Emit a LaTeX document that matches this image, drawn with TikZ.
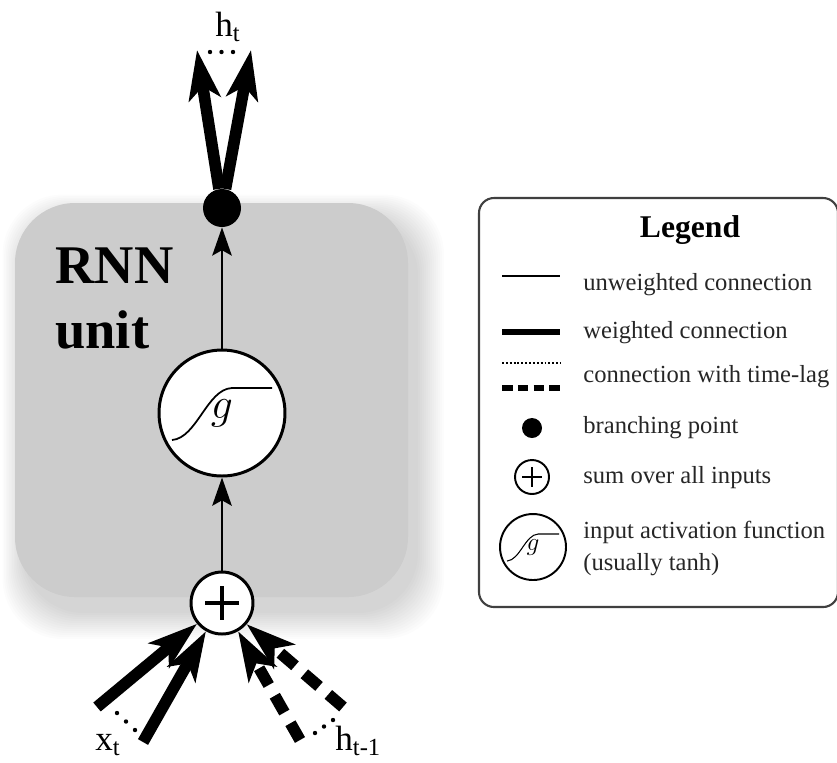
\documentclass[tikz,border=0pt]{standalone}
\usepackage{fontspec}
\setmainfont{Liberation Serif}
\usetikzlibrary{positioning,arrows.meta,calc}

\begin{document}
\begin{tikzpicture}[x=0.02cm,y=-0.02cm,
  every node/.style={font=\fontsize{14}{18}\selectfont},
  unit/.style={draw,circle,fill=white,line width=1.7pt,inner sep=0pt},
  weighted/.style={line width=6.6pt,-{Stealth[length=28pt,width=18pt,inset=7pt]}},
  lagged/.style={weighted,dash pattern=on 11pt off 7pt},
  plain/.style={line width=1.7pt,-{Stealth[length=16pt,width=11pt,inset=3pt]}},
  lbl/.style={anchor=base west,inner sep=0pt,font=\fontsize{20}{20}\selectfont},
  legtext/.style={anchor=base west,inner sep=0pt,text=black!85}]
\useasboundingbox (0,0) rectangle (837,762);
\clip (0,0) rectangle (837,762);
% shadow and gray box of the unit
\foreach \i in {1,...,14}
  \fill[black,opacity=0.013,rounded corners=1.2cm]
    ({15+10-1.6*\i},{203+14-1.6*\i}) rectangle ({408+8+2*\i},{597+14+2*\i});
\fill[black!20,rounded corners=1.2cm] (15,203) rectangle (408,597);
\node[lbl,font=\bfseries\fontsize{31}{31}\selectfont] (rnn) at (55,283) {RNN};
\node[lbl,font=\bfseries\fontsize{31}{31}\selectfont] (unitlbl) at (55,348) {unit};

% nodes
\node[unit,minimum size=1.24cm] (sum) at (222,603) {};
\draw[line width=2pt] ($(sum)+(-17,0)$) -- ($(sum)+(17,0)$);
\draw[line width=2pt] ($(sum)+(0,-17)$) -- ($(sum)+(0,17)$);
\node[unit,minimum size=2.52cm,font=\fontsize{32}{32}\selectfont] (act) at (222,413) {$g$};
\begin{scope}[shift={(act)}]
\draw[line width=1pt] (-50,27) .. controls (-25,25) and (-15,-24) .. (10,-25) -- (50,-25);
\end{scope}
\node[circle,fill=black,minimum size=0.76cm,inner sep=0pt] (branch) at (222,208) {};

\coordinate (hl) at (197,50);
\coordinate (hr) at (251,50);
\coordinate (xa) at (97,707);
\coordinate (xb) at (143,742);
\coordinate (ha) at (300,740);
\coordinate (hb) at (343,707);

% connections
\draw[plain] (sum) -- (act);
\draw[plain] (act) -- (branch);
\draw[weighted] (branch) -- (hl);
\draw[weighted] (branch) -- (hr);
\draw[weighted] (xa) -- (sum);
\draw[weighted] (xb) -- (sum);
\draw[lagged] (ha) -- (sum);
\draw[lagged] (hb) -- (sum);

% dots between the connections
\coordinate (d1a) at (210,52);  \coordinate (d1b) at (233,52);
\coordinate (d2a) at (117,713); \coordinate (d2b) at (135,730);
\coordinate (d3a) at (315,733); \coordinate (d3b) at (333,720);
\foreach \d in {d1,d2,d3}
  \foreach \t in {0,0.5,1}
    \fill ($(\d a)!\t!(\d b)$) circle (2.2);

\node[lbl] (ht) at (215,36) {h\textsubscript{t}};
\node[lbl] (xt) at (95,750) {x\textsubscript{t}};
\node[lbl] (htm) at (335,750) {h\textsubscript{t-1}};

% legend
\draw[black!75,line width=1.2pt,rounded corners=0.3cm] (479,198) rectangle (838,607);
\node[anchor=base,font=\bfseries\fontsize{18}{18}\selectfont] (title) at (690,237) {Legend};
\draw[line width=1.1pt] (502,276) -- (560,276);
\node[legtext] (t1) at (583,290) {unweighted connection};
\draw[line width=2.9pt] (502,332) -- (560,332);
\node[legtext] (t2) at (583,338) {weighted connection};
\draw[line width=1.1pt,dash pattern=on 1.1pt off 1.1pt] (502,363) -- (560,363);
\draw[line width=3.4pt,dash pattern=on 6pt off 3pt] (502,388) -- (560,388);
\node[legtext] (t3) at (583,382) {connection with time-lag};
\node[circle,fill=black,minimum size=0.4cm,inner sep=0pt] (ldot) at (532,428) {};
\node[legtext] (t4) at (583,433) {branching point};
\node[circle,draw,line width=1.1pt,minimum size=0.68cm,inner sep=0pt] (lsum) at (532,477) {};
\draw[line width=1.2pt] ($(lsum)+(-10,0)$) -- ($(lsum)+(10,0)$);
\draw[line width=1.2pt] ($(lsum)+(0,-10)$) -- ($(lsum)+(0,10)$);
\node[legtext] (t5) at (583,483) {sum over all inputs};
\node[circle,draw,line width=1.1pt,minimum size=1.32cm,inner sep=0pt,font=\fontsize{15}{15}\selectfont] (lact) at (533,547) {$g$};
\begin{scope}[shift={(lact)},scale=0.52]
\draw[line width=0.6pt] (-50,27) .. controls (-25,25) and (-15,-24) .. (10,-25) -- (50,-25);
\end{scope}
\node[legtext] (t6) at (583,538) {input activation function};
\node[legtext] (t7) at (583,570) {(usually tanh)};
\end{tikzpicture}
\end{document}
